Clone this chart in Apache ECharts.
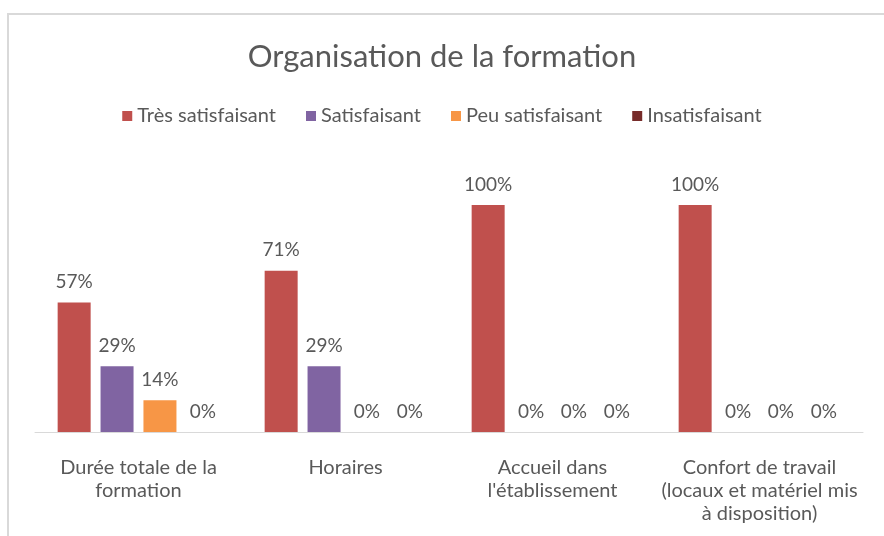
<!DOCTYPE html>
<html>
<head>
<meta charset="utf-8">
<script src="https://cdn.jsdelivr.net/npm/echarts@6/dist/echarts.min.js"></script>
<style>
    html, body { margin: 0; padding: 0; background: #fff; }
    #frame { position: absolute; left: 7px; top: 13px; width: 877px; height: 523px;
             border-top: 2px solid #d9d9d9; border-left: 2px solid #d9d9d9; }
    #chart { position: absolute; left: 0; top: 0; width: 884px; height: 536px; }
</style>
</head>
<body>
<div id="frame"></div>
<div id="chart"></div>
<script>
var categories = [
    'Durée totale de la\nformation',
    'Horaires',
    'Accueil dans\nl\'établissement',
    'Confort de travail\n(locaux et matériel mis\nà disposition)'
];
var seriesNames = ['Très satisfaisant', 'Satisfaisant', 'Peu satisfaisant', 'Insatisfaisant'];
var tresSatisfaisant = [57, 71, 100, 100];
var satisfaisant = [29, 29, 0, 0];
var peuSatisfaisant = [14, 0, 0, 0];
var insatisfaisant = [0, 0, 0, 0];
var colors = ['#C0504D', '#8064A2', '#F79646', '#772C2A'];

var font = 'Lato, "Open Sans", sans-serif';

function makeSeries(name, data, color) {
    return {
        name: name,
        type: 'bar',
        data: data,
        barWidth: 33,
        barGap: '30%',
        itemStyle: { color: color },
        label: {
            show: true,
            position: 'top',
            distance: 11,
            formatter: '{c}%',
            color: '#595959',
            fontSize: 19,
            fontFamily: font
        }
    };
}

var myChart = echarts.init(document.getElementById('chart'));
var option = {
    animation: false,
    title: {
        text: 'Organisation de la formation',
        left: 'center',
        top: 36,
        textStyle: { color: '#595959', fontSize: 31, fontWeight: 'normal', fontFamily: font }
    },
    legend: {
        data: seriesNames,
        top: 101,
        left: 'center',
        itemWidth: 10,
        itemHeight: 10,
        itemGap: 30,
        icon: 'rect',
        textStyle: { color: '#595959', fontSize: 20, fontFamily: font }
    },
    grid: { left: 35, right: 21, top: 205, bottom: 104 },
    xAxis: {
        type: 'category',
        data: categories,
        axisLine: { lineStyle: { color: '#d9d9d9', width: 1 } },
        axisTick: { show: false },
        axisLabel: {
            interval: 0,
            margin: 24,
            color: '#595959',
            fontSize: 20,
            lineHeight: 23,
            fontFamily: font
        }
    },
    yAxis: {
        type: 'value',
        min: 0,
        max: 100,
        show: false,
        splitLine: { show: false }
    },
    series: [
        makeSeries(seriesNames[0], tresSatisfaisant, colors[0]),
        makeSeries(seriesNames[1], satisfaisant, colors[1]),
        makeSeries(seriesNames[2], peuSatisfaisant, colors[2]),
        makeSeries(seriesNames[3], insatisfaisant, colors[3])
    ]
};
myChart.setOption(option);
</script>
</body>
</html>
